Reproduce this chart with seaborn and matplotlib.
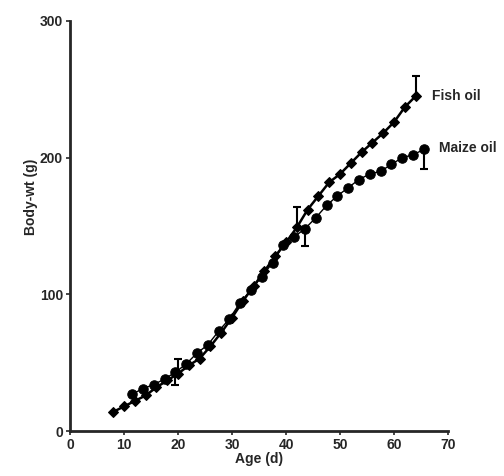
import seaborn as sns
import matplotlib.pyplot as plt
import numpy as np
import pandas as pd

# 数据：体重随日龄变化
fish_age = [8, 10, 12, 14, 16, 18, 20, 22, 24, 26, 28, 30, 32, 34, 36, 38,
            40, 42, 44, 46, 48, 50, 52, 54, 56, 58, 60, 62, 64]
fish_wt = [14, 18, 22, 26, 32, 37, 42, 48, 53, 62, 72, 83, 95, 106, 117, 128,
           138, 149, 162, 172, 182, 188, 196, 204, 211, 218, 226, 237, 245]

maize_age = [11.5, 13.5, 15.5, 17.5, 19.5, 21.5, 23.5, 25.5, 27.5, 29.5, 31.5,
             33.5, 35.5, 37.5, 39.5, 41.5, 43.5, 45.5, 47.5, 49.5, 51.5, 53.5,
             55.5, 57.5, 59.5, 61.5, 63.5, 65.5]
maize_wt = [27, 31, 34, 38, 43, 49, 57, 63, 73, 82, 94, 103, 113, 123, 136, 142,
            148, 156, 165, 172, 178, 184, 188, 190, 195, 200, 202, 206]

# 误差线（单侧）
fish_err_age = [20, 42, 64]
fish_err_wt = [42, 149, 245]
fish_err = [11, 15, 15]
maize_err_age = [19.5, 43.5, 65.5]
maize_err_wt = [43, 148, 206]
maize_err = [9, 13, 14]

sns.set_style("ticks")
plt.rcParams["font.family"] = ["Liberation Sans", "DejaVu Sans"]
plt.rcParams["font.weight"] = "bold"

fig = plt.figure(figsize=(5.04, 4.76), dpi=100)
ax = fig.add_axes([0.139, 0.0945, 0.75, 0.8615])

df_fish = pd.DataFrame({"age": fish_age, "wt": fish_wt})
df_maize = pd.DataFrame({"age": maize_age, "wt": maize_wt})

sns.lineplot(data=df_fish, x="age", y="wt", color="black", lw=1.8,
             marker="D", markersize=5, markeredgecolor="black", ax=ax)
sns.lineplot(data=df_maize, x="age", y="wt", color="black", lw=1.0,
             marker="o", markersize=6.8, markeredgecolor="black", ax=ax)

ax.errorbar(fish_err_age, fish_err_wt,
            yerr=[np.zeros(len(fish_err)), fish_err],
            fmt="none", ecolor="black", elinewidth=1.5, capsize=3, capthick=1.5)
ax.errorbar(maize_err_age, maize_err_wt,
            yerr=[maize_err, np.zeros(len(maize_err))],
            fmt="none", ecolor="black", elinewidth=1.5, capsize=3, capthick=1.5)

ax.text(67, 245, "Fish oil", fontsize=10, fontweight="bold", va="center")
ax.text(68.3, 207, "Maize oil", fontsize=10, fontweight="bold", va="center")

ax.set_xlim(0, 70)
ax.set_ylim(0, 300)
ax.set_xticks(np.arange(0, 71, 10))
ax.set_yticks([0, 100, 200, 300])
ax.tick_params(labelsize=10, length=3, width=1.2, pad=2)
for lab in ax.get_xticklabels() + ax.get_yticklabels():
    lab.set_fontweight("bold")

ax.set_xlabel("Age (d)", fontsize=10, fontweight="bold", labelpad=0)
ax.set_ylabel("Body-wt (g)", fontsize=10, fontweight="bold")
ax.yaxis.set_label_coords(-0.085, 0.57)

ax.spines["right"].set_visible(False)
ax.spines["top"].set_visible(False)
ax.spines["left"].set_linewidth(2)
ax.spines["bottom"].set_linewidth(2)

plt.savefig("out.png", dpi=100)
